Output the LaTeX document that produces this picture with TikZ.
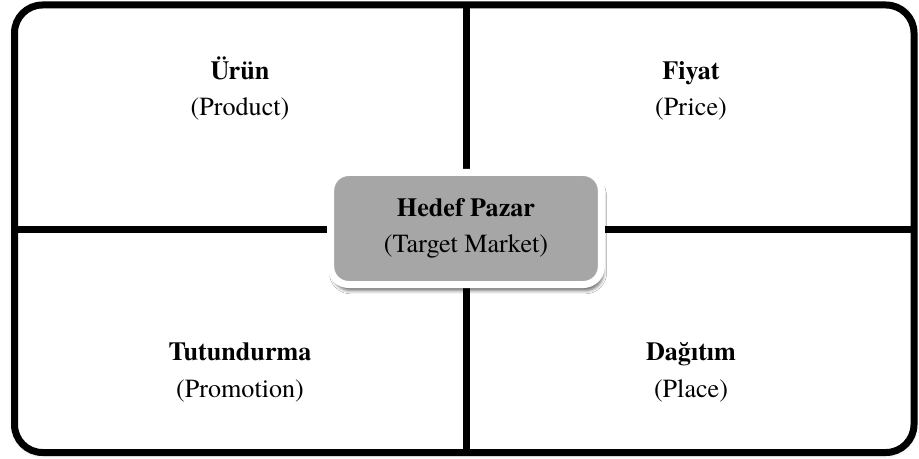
\documentclass[tikz,border=0pt]{standalone}
\usepackage{fontspec}
\setmainfont{texgyretermes}[Extension=.otf, UprightFont=*-regular, BoldFont=*-bold]
\usetikzlibrary{shadows.blur}

\definecolor{boxgray}{HTML}{A6A6A6}

\tikzset{
  frameline/.style={line width=5.25pt},
  quadtext/.style={align=center, font=\fontsize{19.6}{27.5}\selectfont, anchor=base, inner sep=0pt},
  centerbox/.style={draw=white, line width=5.25pt, fill=boxgray, rounded corners=13.5pt,
    minimum width=203pt, minimum height=84pt, inner sep=0pt,
    align=center, font=\fontsize{19.6}{27}\selectfont,
    blur shadow={shadow xshift=1.5pt, shadow yshift=-4.5pt, shadow blur radius=2.5pt, shadow opacity=60}}
}

\begin{document}
\begin{tikzpicture}[x=0.75pt,y=-0.75pt]
  \useasboundingbox (0,0) rectangle (919,459);

  % outer frame
  \draw[frameline, fill=white, rounded corners=21pt,
    blur shadow={shadow xshift=0pt, shadow yshift=-1pt, shadow blur radius=4pt, shadow opacity=20}]
    (14.5,5) rectangle (914,452.5);

  % dividing lines
  \coordinate (top) at (466,5);
  \coordinate (bottom) at (466,452.5);
  \coordinate (left) at (14.5,229.5);
  \coordinate (right) at (914,229.5);
  \draw[frameline] (top) -- (bottom);
  \draw[frameline] (left) -- (right);

  % quadrants (base = last line)
  \node[quadtext] (urun) at (240,116) {\textbf{Ürün}\\(Product)};
  \node[quadtext] (fiyat) at (691,116) {\textbf{Fiyat}\\(Price)};
  \node[quadtext] (tutundurma) at (240,397) {\textbf{Tutundurma}\\(Promotion)};
  \node[quadtext] (dagitim) at (691,397) {\textbf{Dağıtım}\\(Place)};

  % target market
  \node[centerbox] (hedef) at (466,228.5) {\textbf{Hedef Pazar}\\(Target Market)};
\end{tikzpicture}
\end{document}
